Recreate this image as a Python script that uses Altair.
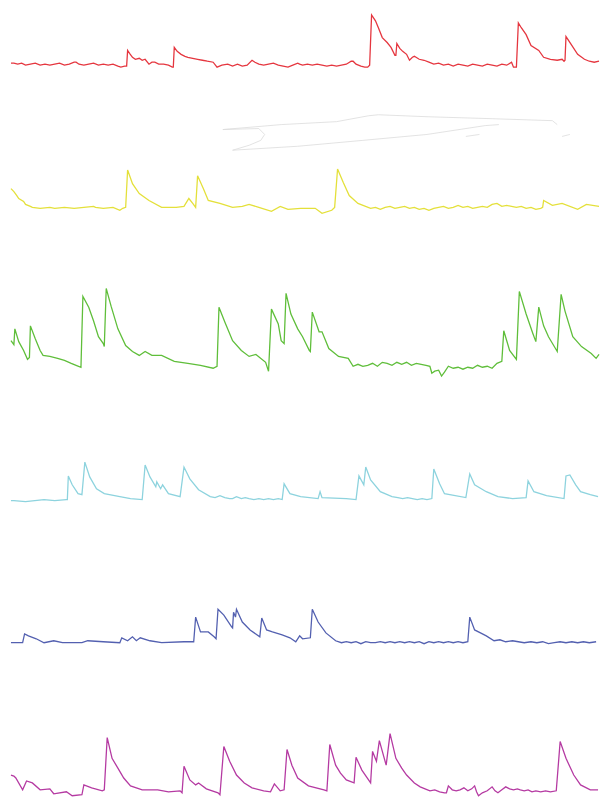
import altair as alt
import pandas as pd

# ---- traces: time index and fluorescence signal (arbitrary units) ----
red_t = [5,8,12,16,20,25,30,35,40,45,50,55,60,65,70,72,75,80,85,90,95,100,105,110,115,118,122,124,125,127,130,133,137,140,143,147,150,153,157,162,167,171,172,173,176,180,184,187,192,197,202,207,213,217,222,228,233,238,243,248,253,256,260,265,270,275,280,285,290,295,300,302,305,310,315,320,325,330,335,340,345,350,355,357,360,365,369,372,374,376,380,383,387,392,396,400,401,402,405,408,412,415,418,420,425,430,435,440,445,450,455,460,465,470,475,480,485,490,495,500,505,510,515,520,522,525,527,530,535,540,548,553,560,567,572,574,575,576,582,588,595,600,605,610]
red_f = [5,5,4,5,3,4,5,3,4,3,4,5,3,4,6,6,4,3,4,5,3,4,3,4,2,1,2,2,18,15,11,9,10,8,9,4,6,6,4,4,3,1,1,21,17,14,12,11,10,9,8,7,6,1,3,4,2,4,2,3,8,6,4,3,4,5,3,2,1,3,5,4,3,4,3,4,3,2,3,2,3,4,7,7,4,2,1,1,3,54,48,41,31,26,21,13,13,25,20,17,14,8,11,12,9,8,6,4,5,3,4,2,4,3,2,4,3,2,4,3,2,4,3,6,1,1,46,41,34,23,18,11,9,8,9,7,8,32,23,14,9,7,6,7]

yellow_t = [5,8,11,13,18,20,25,27,35,45,50,60,70,80,90,92,100,110,117,120,123,125,130,137,147,160,175,183,188,192,195,197,203,208,220,233,243,250,260,273,282,290,303,305,318,325,335,338,341,347,353,362,375,380,385,390,395,400,405,410,415,420,425,430,435,440,445,450,455,460,465,470,475,480,485,490,495,500,505,510,515,520,525,530,535,540,545,550,552,553,562,572,588,597,610]
yellow_f = [24,21,17,14,11,8,6,5,4,5,4,5,4,5,6,5,4,5,2,4,5,43,29,19,12,5,5,6,14,9,5,37,24,12,9,5,6,8,5,1,6,3,4,4,4,-1,2,5,44,30,17,9,4,5,3,5,6,4,5,6,4,5,3,4,2,4,5,6,4,5,7,5,6,4,5,6,5,8,9,6,7,6,5,6,4,5,3,4,5,12,7,9,3,8,6]

green_t = [5,8,9,13,18,22,24,25,30,35,38,45,53,60,67,72,77,79,85,90,95,100,101,103,108,115,123,130,137,143,150,160,173,187,200,213,217,219,225,233,242,250,257,267,270,273,280,283,286,288,293,300,305,312,313,315,322,325,332,342,352,357,362,367,372,377,382,387,392,397,402,407,412,417,422,427,432,436,438,441,445,448,451,455,460,465,470,475,480,485,490,495,500,505,510,512,518,525,528,535,542,545,548,553,558,567,571,575,583,592,602,607,610]
green_f = [37,33,49,36,27,18,20,52,39,27,22,21,19,17,14,12,10,82,71,57,41,34,31,90,72,49,32,26,22,26,22,22,16,14,12,9,11,71,56,37,27,21,23,15,6,69,54,37,34,85,64,49,41,27,26,66,46,46,29,21,19,11,13,11,12,14,11,15,14,12,15,13,15,12,14,13,12,11,4,6,7,1,5,11,9,10,8,10,9,12,10,11,9,14,16,47,27,18,87,64,44,36,71,52,41,26,84,67,41,31,24,19,23]

cyan_t = [5,8,20,39,50,62,63,64,68,74,78,81,86,93,101,117,128,140,143,148,154,155,159,161,167,179,183,189,198,210,215,220,225,230,233,237,242,246,250,255,260,265,270,275,280,284,286,292,303,321,323,325,350,360,363,368,370,375,385,397,403,408,413,418,423,428,433,438,440,446,451,473,477,482,494,506,521,535,537,543,556,574,576,580,586,591,601,609]
cyan_f = [1,1,0,2,1,2,2,26,17,8,7,40,25,13,8,5,3,2,37,25,15,20,13,17,8,5,35,23,12,5,4,6,4,3,3,5,3,4,3,2,3,2,3,2,3,2,18,8,5,3,10,4,3,2,26,17,35,22,10,5,4,3,4,3,2,3,2,3,33,18,8,4,28,17,10,5,3,4,21,10,6,3,26,27,17,10,7,5]

blue_t = [5,8,17,19,23,31,39,49,58,78,84,100,117,119,125,130,134,138,148,160,183,193,195,200,208,214,216,218,224,232,233,234,236,237,243,251,261,263,268,274,284,292,298,302,305,313,315,321,329,339,345,350,355,360,365,370,375,380,385,390,395,400,405,410,415,420,425,430,435,440,445,450,455,460,465,470,475,477,482,488,494,502,508,514,521,527,533,540,546,552,558,564,570,576,582,588,594,600,607]
blue_f = [2,2,2,11,9,6,2,4,2,2,4,3,2,7,4,8,4,7,4,2,3,3,28,13,13,8,6,36,30,18,17,33,28,36,23,15,8,27,15,13,10,7,3,9,6,7,36,23,12,4,2,3,2,3,1,3,2,2,3,2,3,2,3,2,3,2,3,1,3,2,3,2,3,2,3,2,3,28,15,12,9,4,5,3,4,3,2,3,2,3,1,2,3,2,3,2,3,2,3]

magenta_t = [5,8,10,17,21,27,35,45,49,62,68,78,80,88,99,101,104,109,115,121,128,140,156,167,179,181,183,189,195,198,206,218,220,224,230,237,245,253,265,272,276,282,286,289,294,300,311,327,330,333,339,344,350,358,360,366,375,377,381,384,391,395,401,407,412,420,426,431,436,441,446,451,453,455,459,463,467,471,475,479,482,484,486,490,495,500,503,506,510,514,518,522,526,529,533,537,541,545,550,555,560,566,570,576,584,591,601,609]
magenta_f = [23,22,20,8,17,15,8,9,4,6,2,3,13,10,7,8,61,40,30,20,12,8,8,6,7,5,32,18,13,15,9,5,3,52,37,23,15,10,7,6,14,7,8,49,33,20,12,8,7,54,33,25,18,15,41,28,15,47,37,58,33,65,40,30,23,15,11,9,7,8,6,5,5,12,8,7,8,10,7,9,12,6,2,5,7,11,7,5,8,11,9,8,9,8,7,8,6,7,6,7,6,7,57,40,23,13,8,8]

# faint grey scribble drawn in the second panel
grey_seg = ["a"] * 11 + ["b"] * 9 + ["c"] * 2 + ["d"] * 2
grey_t = [223,260,266,262,250,233,300,367,433,493,507,
          223,283,340,373,383,433,500,562,567,
          473,487,
          572,580]
grey_f = [84,85,79,73,68,63,67,73,79,88,89,
          84,89,92,98,99,97,95,93,89,
          77,79,
          77,79]

traces = [
    (red_t, red_f, 61, "#e5363f"),
    (yellow_t, yellow_f, 207, "#e4e03a"),
    (green_t, green_f, 374, "#5fbe3a"),
    (cyan_t, cyan_f, 500, "#8dd3de"),
    (blue_t, blue_f, 645, "#5360b0"),
    (magenta_t, magenta_f, 800, "#b53aa2"),
]

W = 594
HTOT = 790
HP = HTOT / 6
S = HTOT / 794

xscale = alt.Scale(domain=[5, 610], nice=False, zero=False)

panels = []
for i, (t, f, base, color) in enumerate(traces):
    hi = ((base - 6) * S - i * HP) / S
    lo = hi - HP / S
    yscale = alt.Scale(domain=[lo, hi], nice=False, zero=False)
    df = pd.DataFrame({"t": t, "f": f, "k": list(range(len(t)))})
    line = alt.Chart(df).mark_line(color=color, strokeWidth=1.3, clip=False).encode(
        x=alt.X("t:Q", scale=xscale, axis=None),
        y=alt.Y("f:Q", scale=yscale, axis=None),
        order="k:Q",
    )
    layers = [line]
    if i == 1:
        gdf = pd.DataFrame({"t": grey_t, "f": grey_f, "seg": grey_seg,
                            "k": list(range(len(grey_t)))})
        g = alt.Chart(gdf).mark_line(color="#dcdcdc", strokeWidth=0.8, clip=False).encode(
            x=alt.X("t:Q", scale=xscale, axis=None),
            y=alt.Y("f:Q", scale=yscale, axis=None),
            detail="seg:N",
            order="k:Q",
        )
        layers = [g, line]
    panels.append(alt.layer(*layers).properties(width=W, height=HP))

chart = alt.vconcat(*panels, spacing=0, bounds="flush").properties(padding=0).configure_view(stroke=None)

chart.save("out.html", embed_options={"renderer": "svg", "actions": False})
